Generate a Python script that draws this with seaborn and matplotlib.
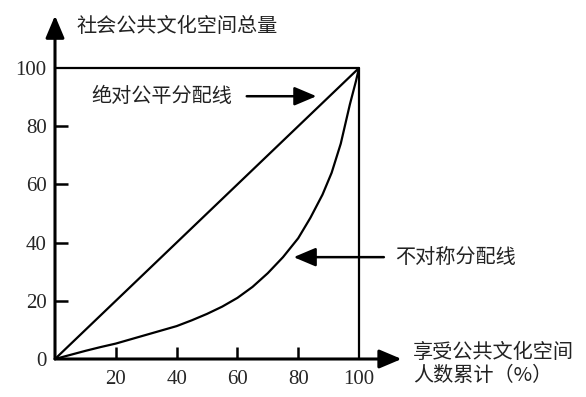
import matplotlib
matplotlib.use("Agg")
import matplotlib.pyplot as plt
import seaborn as sns
import pandas as pd

# Data
equal_x = [0, 100]
equal_y = [0, 100]
lorenz_x = [0, 5, 10, 15, 20, 25, 30, 35, 40, 45, 50, 55, 60, 65, 70, 75, 80, 84, 88, 91, 94, 97, 99, 100]
lorenz_y = [0, 1.4, 2.8, 4.1, 5.3, 6.8, 8.3, 9.8, 11.3, 13.3, 15.5, 18.0, 21.0, 24.8, 29.5, 35.0,
            41.5, 48.5, 56.5, 64.0, 74.0, 87.5, 95.5, 100]
x_ticks = [20, 40, 60, 80, 100]
y_ticks = [0, 20, 40, 60, 80, 100]
y_title = "社会公共文化空间总量"
x_title = "享受公共文化空间\n人数累计（%）"
label_equal = "绝对公平分配线"
label_lorenz = "不对称分配线"

sns.set_style("white")
plt.rcParams['font.family'] = ['Noto Sans CJK SC', 'DejaVu Sans']

fig = plt.figure(figsize=(5.86, 3.97), dpi=100)
ax = fig.add_axes([55 / 586, 38 / 397, 304 / 586, 291 / 397])

df_eq = pd.DataFrame({"x": equal_x, "y": equal_y})
df_lz = pd.DataFrame({"x": lorenz_x, "y": lorenz_y})
sns.lineplot(data=df_eq, x="x", y="y", ax=ax, color="black", lw=1.6, sort=False)
sns.lineplot(data=df_lz, x="x", y="y", ax=ax, color="black", lw=1.6, sort=False,
             solid_joinstyle="round")

# box top and right
ax.plot([0, 100], [100, 100], color="black", lw=1.6, clip_on=False)
ax.plot([100, 100], [0, 100], color="black", lw=1.6, clip_on=False)

ax.set_xlim(0, 100)
ax.set_ylim(0, 100)
for s in ax.spines.values():
    s.set_visible(False)

arrow_style = "-|>,head_length=0.9,head_width=0.38"
# axes with arrows
ax.annotate("", xy=(0, 118), xytext=(0, 0), xycoords="data", annotation_clip=False,
            arrowprops=dict(arrowstyle=arrow_style, color="black", lw=2.2,
                            shrinkA=0, shrinkB=0, mutation_scale=15))
ax.annotate("", xy=(114, 0), xytext=(0, 0), xycoords="data", annotation_clip=False,
            arrowprops=dict(arrowstyle=arrow_style, color="black", lw=2.2,
                            shrinkA=0, shrinkB=0, mutation_scale=15))

ax.set_xticks(x_ticks)
ax.set_yticks(y_ticks)
ax.set_xticklabels([str(v) for v in x_ticks], family="Liberation Serif", fontsize=15)
ax.set_yticklabels([str(v) for v in y_ticks], family="Liberation Serif", fontsize=15)
ax.tick_params(axis="x", direction="in", length=9, width=1.8, pad=8, color="black", bottom=True)
ax.tick_params(axis="y", direction="in", length=9, width=1.8, pad=6, color="black", left=True)
for t in ax.xaxis.get_major_ticks():
    if t.get_loc() == 100:
        t.tick1line.set_visible(False)
for t in ax.yaxis.get_major_ticks():
    if t.get_loc() in (0, 100):
        t.tick1line.set_visible(False)
ax.set_xlabel("")
ax.set_ylabel("")

# titles
fig.text(76 / 586, 1 - 27 / 397, y_title, fontsize=14.5, va="center", ha="left", color="#222222")
fig.text(413 / 586, 1 - 364 / 397, x_title, fontsize=14.5, va="center", ha="left", color="#222222",
         linespacing=1.15)

# annotations
ax.annotate(label_equal, xy=(86, 90.3), xytext=(12, 90.3), xycoords="data", textcoords="data",
            fontsize=14.5, va="center", ha="left", color="#222222", annotation_clip=False,
            arrowprops=dict(arrowstyle=arrow_style, color="black", lw=1.8,
                            shrinkA=8, shrinkB=0, mutation_scale=15))
ax.annotate(label_lorenz, xy=(78.5, 35), xytext=(112, 35), xycoords="data", textcoords="data",
            fontsize=14.5, va="center", ha="left", color="#222222", annotation_clip=False,
            arrowprops=dict(arrowstyle=arrow_style, color="black", lw=1.8,
                            shrinkA=6, shrinkB=0, mutation_scale=15))

fig.savefig("out.png", dpi=100, facecolor="white")
